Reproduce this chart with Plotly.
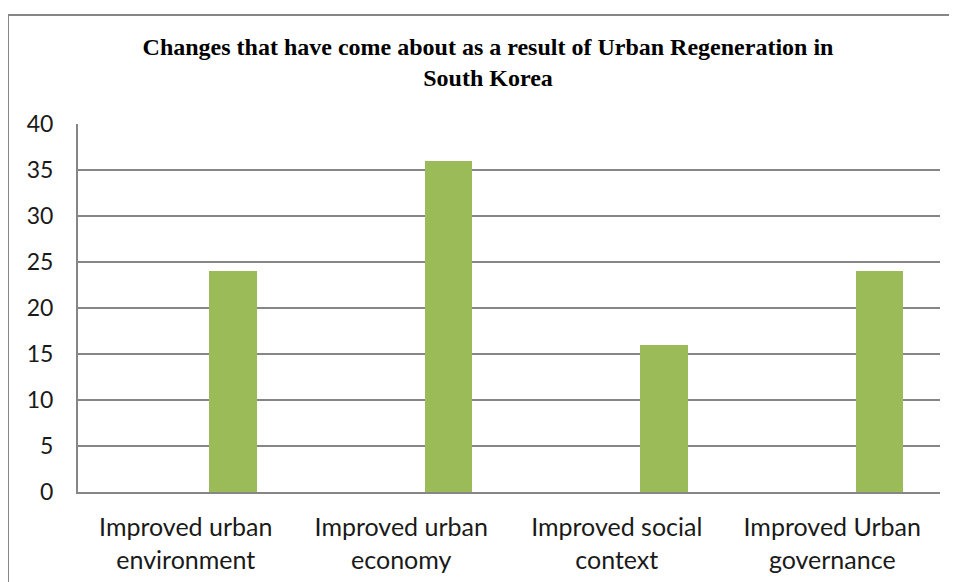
import plotly.graph_objects as go

categories = ["Improved urban<br>environment", "Improved urban<br>economy",
              "Improved social<br>context", "Improved Urban<br>governance"]
values = [24, 36, 16, 24]
y_ticks = [0, 5, 10, 15, 20, 25, 30, 35, 40]

# page body adds an 8px offset
OFF = 8
W, H = 957, 582
L, T = 78 - OFF, 124 - OFF
pw, ph = 862, 368
R = W - L - pw
B = H - T - ph

def px_x(x):
    return (x - OFF - L) / pw

def px_y(y):
    return (T + ph - (y - OFF)) / ph

fig = go.Figure()
fig.add_trace(go.Bar(
    x=categories, y=values,
    marker=dict(color="#9BBB59", line=dict(width=0)),
    width=0.221, offset=0.109,
    showlegend=False, hoverinfo="x+y",
))

fig.update_layout(
    width=W, height=H,
    margin=dict(l=L, r=R, t=T, b=B),
    paper_bgcolor="white", plot_bgcolor="white",
    title=dict(
        text="<b>Changes that have come about as a result of Urban Regeneration in<br>South Korea</b>",
        font=dict(family="Liberation Serif, Times New Roman, serif", size=24, color="#000000"),
        x=(488 - OFF) / W, xanchor="center", y=1 - (55 - OFF) / H, yanchor="top",
    ),
    xaxis=dict(
        showgrid=False, showline=True, linecolor="#868686", linewidth=2,
        ticks="", tickfont=dict(family="Lato, Calibri, sans-serif", size=25, color="#1a1a1a"),
        ticklabelstandoff=12,
    ),
    yaxis=dict(
        range=[0, 40], tickvals=y_ticks, showgrid=True, gridcolor="#868686", gridwidth=2,
        showline=True, linecolor="#868686", linewidth=2, zeroline=False,
        ticks="", tickfont=dict(family="Lato, Calibri, sans-serif", size=23, color="#1a1a1a"),
        ticklabelstandoff=18,
    ),
    bargap=0,
)

# outer chart border (top and left edges visible)
fig.add_shape(type="line", xref="paper", yref="paper",
              x0=px_x(7), x1=px_x(970), y0=px_y(15), y1=px_y(15),
              line=dict(color="#868686", width=2))
fig.add_shape(type="line", xref="paper", yref="paper",
              x0=px_x(8), x1=px_x(8), y0=px_y(15), y1=px_y(600),
              line=dict(color="#868686", width=2))

fig.write_html("out.html")
